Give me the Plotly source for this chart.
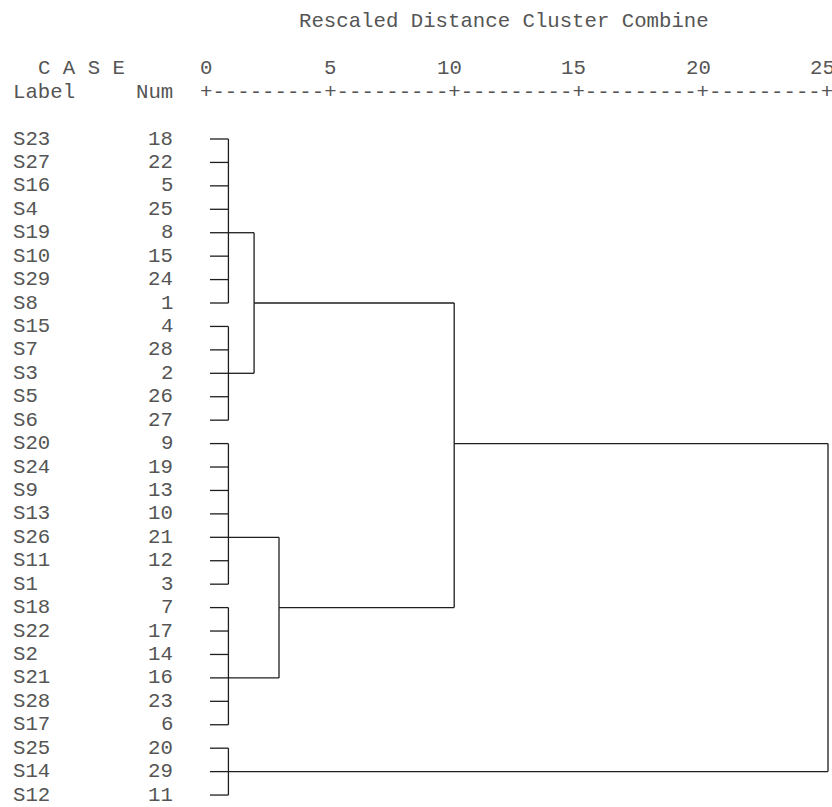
import plotly.graph_objects as go

# Cases in dendrogram order (top to bottom)
case_labels = ["S23", "S27", "S16", "S4", "S19", "S10", "S29", "S8",
               "S15", "S7", "S3", "S5", "S6",
               "S20", "S24", "S9", "S13", "S26", "S11", "S1",
               "S18", "S22", "S2", "S21", "S28", "S17",
               "S25", "S14", "S12"]
case_nums = [18, 22, 5, 25, 8, 15, 24, 1,
             4, 28, 2, 26, 27,
             9, 19, 13, 10, 21, 12, 3,
             7, 17, 14, 16, 23, 6,
             20, 29, 11]

# Rescaled distance scale
scale_ticks = [0, 5, 10, 15, 20, 25]
title_text = "Rescaled Distance Cluster Combine"

# First-level clusters: (first row, last row), join row, rescaled distance
group_rows = [(0, 7), (8, 12), (13, 19), (20, 25), (26, 28)]
group_join_rows = [4, 10, 17, 23, 27]
group_height = 0.94
leaf_start = 0.2

# Higher merges: child ids, rescaled distance, join row
# ids 0-4 are first-level clusters, 5+ are merges in this list
merge_children = [(0, 1), (2, 3), (5, 6), (7, 4)]
merge_heights = [1.97, 2.97, 10.0, 25.0]
merge_join_rows = [7, 20, 13, None]

FONT = "Courier New, Liberation Mono, monospace"
FS = 20.7
CHAR = 0.5                 # one character cell in distance units
TEXT_COLOR = "#555555"
LINE_COLOR = "#1e1e1e"

# ---- build dendrogram segments ----
node_height = {}
node_row = {}
for i, (r0, r1) in enumerate(group_rows):
    node_height[i] = group_height
    node_row[i] = group_join_rows[i]
parent_height = {}
for k, (a, b) in enumerate(merge_children):
    nid = len(group_rows) + k
    node_height[nid] = merge_heights[k]
    node_row[nid] = merge_join_rows[k]
    parent_height[a] = merge_heights[k]
    parent_height[b] = merge_heights[k]

xs, ys = [], []

def seg(x0, y0, x1, y1):
    xs.extend([x0, x1, None])
    ys.extend([y0, y1, None])

for i, (r0, r1) in enumerate(group_rows):
    for r in range(r0, r1 + 1):
        seg(leaf_start, r, group_height, r)
    seg(group_height, r0, group_height, r1)

for nid, h in node_height.items():
    if nid in parent_height:
        seg(h, node_row[nid], parent_height[nid], node_row[nid])

for k, (a, b) in enumerate(merge_children):
    h = merge_heights[k]
    ra, rb = node_row[a], node_row[b]
    seg(h, min(ra, rb), h, max(ra, rb))

fig = go.Figure()
fig.add_trace(go.Scatter(x=xs, y=ys, mode="lines",
                         line=dict(color=LINE_COLOR, width=1.3),
                         hoverinfo="skip", showlegend=False))

annotations = []

def txt(x, y, s, anchor):
    annotations.append(dict(x=x, y=y, xref="x", yref="y", text=s,
                            showarrow=False, xanchor=anchor, yanchor="middle",
                            font=dict(family=FONT, size=FS, color=TEXT_COLOR),
                            borderpad=0))

label_x = -0.25 - 15 * CHAR      # left column
num_right = -0.25 - 2 * CHAR     # right edge of case-number column

for r, (lab, n) in enumerate(zip(case_labels, case_nums)):
    txt(label_x, r, lab, "left")
    txt(num_right, r, str(n), "right")

# headers
txt(label_x + 2 * CHAR, -3, "C&nbsp;A&nbsp;S&nbsp;E", "left")
txt(label_x, -2, "Label", "left")
txt(num_right, -2, "Num", "right")
txt(-0.25 + 8 * CHAR, -5, title_text, "left")

# scale numbers: last digit sits above the '+' of its tick
for t in scale_ticks:
    s = str(t)
    txt(t + CHAR / 2 - len(s) * CHAR, -3, s, "left")

step = scale_ticks[1] - scale_ticks[0]
ruler = "+" + ("-" * (int(step / CHAR) - 1) + "+") * (len(scale_ticks) - 1)
txt(scale_ticks[0] - CHAR / 2, -2, ruler, "left")

px_per_unit = 24.92
x0_px = 205.0
row0_px = 139.0
row_px = 23.43
W, H = 832, 807

fig.update_layout(
    width=W, height=H,
    margin=dict(l=0, r=0, t=0, b=0),
    paper_bgcolor="white", plot_bgcolor="white",
    annotations=annotations,
    xaxis=dict(range=[-x0_px / px_per_unit, (W - x0_px) / px_per_unit],
               visible=False, fixedrange=True),
    yaxis=dict(range=[(H - row0_px) / row_px, -row0_px / row_px],
               visible=False, fixedrange=True),
)

fig.write_html("out.html")
